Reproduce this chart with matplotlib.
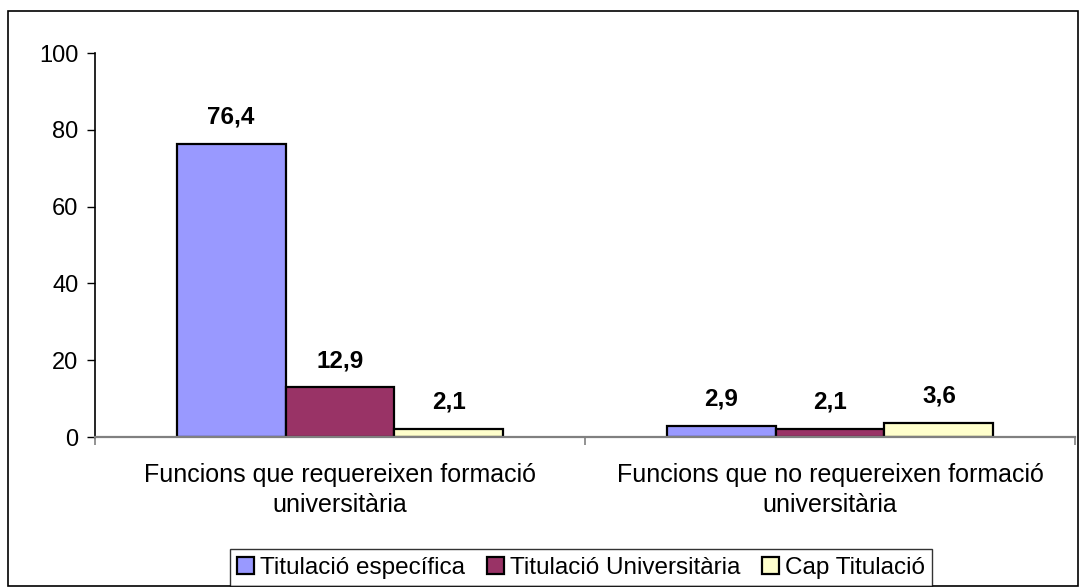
import matplotlib
matplotlib.use("Agg")
import matplotlib.pyplot as plt
import numpy as np
from matplotlib.patches import Rectangle

plt.rcParams['font.family'] = ['Liberation Sans', 'DejaVu Sans']

categories = ["Funcions que requereixen formació\nuniversitària",
              "Funcions que no requereixen formació\nuniversitària"]
series_names = ["Titulació específica", "Titulació Universitària", "Cap Titulació"]
values_especifica = [76.4, 2.9]
values_universitaria = [12.9, 2.1]
values_cap = [2.1, 3.6]
colors = ["#9999FF", "#993366", "#FFFFCC"]
yticks = [0, 20, 40, 60, 80, 100]

W, H = 1081, 587
fig = plt.figure(figsize=(W / 100, H / 100), dpi=100)
ax = fig.add_axes([95 / W, 1 - 437 / H, (1075 - 95) / W, (437 - 53) / H])

# figure border
fig.patches.append(Rectangle((8 / W, 1 / H), (1078 - 8) / W, (575) / H,
                             transform=fig.transFigure, fill=False,
                             edgecolor="black", linewidth=1.2))

x = np.arange(len(categories))
bw = 0.2224
series = [values_especifica, values_universitaria, values_cap]
for i, (vals, name, c) in enumerate(zip(series, series_names, colors)):
    bars = ax.bar(x + (i - 1) * bw, vals, width=bw, color=c, edgecolor="black",
                  linewidth=1.6, label=name, zorder=3)
    for b, v in zip(bars, vals):
        ax.annotate(f"{v:.1f}".replace(".", ","),
                    (b.get_x() + b.get_width() / 2, b.get_height()),
                    xytext=(0, 11), textcoords="offset points",
                    ha="center", va="bottom", fontsize=17.5, fontweight="bold")

ax.set_xlim(-0.5, 1.5)
ax.set_ylim(0, 100)
ax.set_yticks(yticks)
ax.set_yticklabels([str(t) for t in yticks], fontsize=17)
ax.tick_params(axis="y", direction="out", length=6, width=1, pad=6, color="black")

ax.set_xticks([-0.5, 0.5, 1.5])
ax.set_xticklabels([])
ax.set_xticks(x, minor=True)
ax.set_xticklabels(categories, minor=True, fontsize=18, linespacing=1.3)
ax.tick_params(axis="x", which="major", direction="out", length=6, width=1.2, color="#808080")
ax.tick_params(axis="x", which="minor", length=0, pad=19)

for s in ["top", "right"]:
    ax.spines[s].set_visible(False)
ax.spines["left"].set_color("black")
ax.spines["left"].set_linewidth(1.2)
ax.spines["bottom"].set_color("#808080")
ax.spines["bottom"].set_linewidth(1.6)
ax.spines["bottom"].set_zorder(4)

leg = fig.legend(loc="lower center", bbox_to_anchor=(581 / W, 1 / H), ncol=3,
                 fontsize=17.5, frameon=True, fancybox=False, edgecolor="black",
                 handlelength=0.7, handleheight=0.7, handletextpad=0.25,
                 columnspacing=0.9, borderpad=0.3, borderaxespad=0)
leg.get_frame().set_linewidth(1.0)

fig.savefig("out.png", dpi=100)
